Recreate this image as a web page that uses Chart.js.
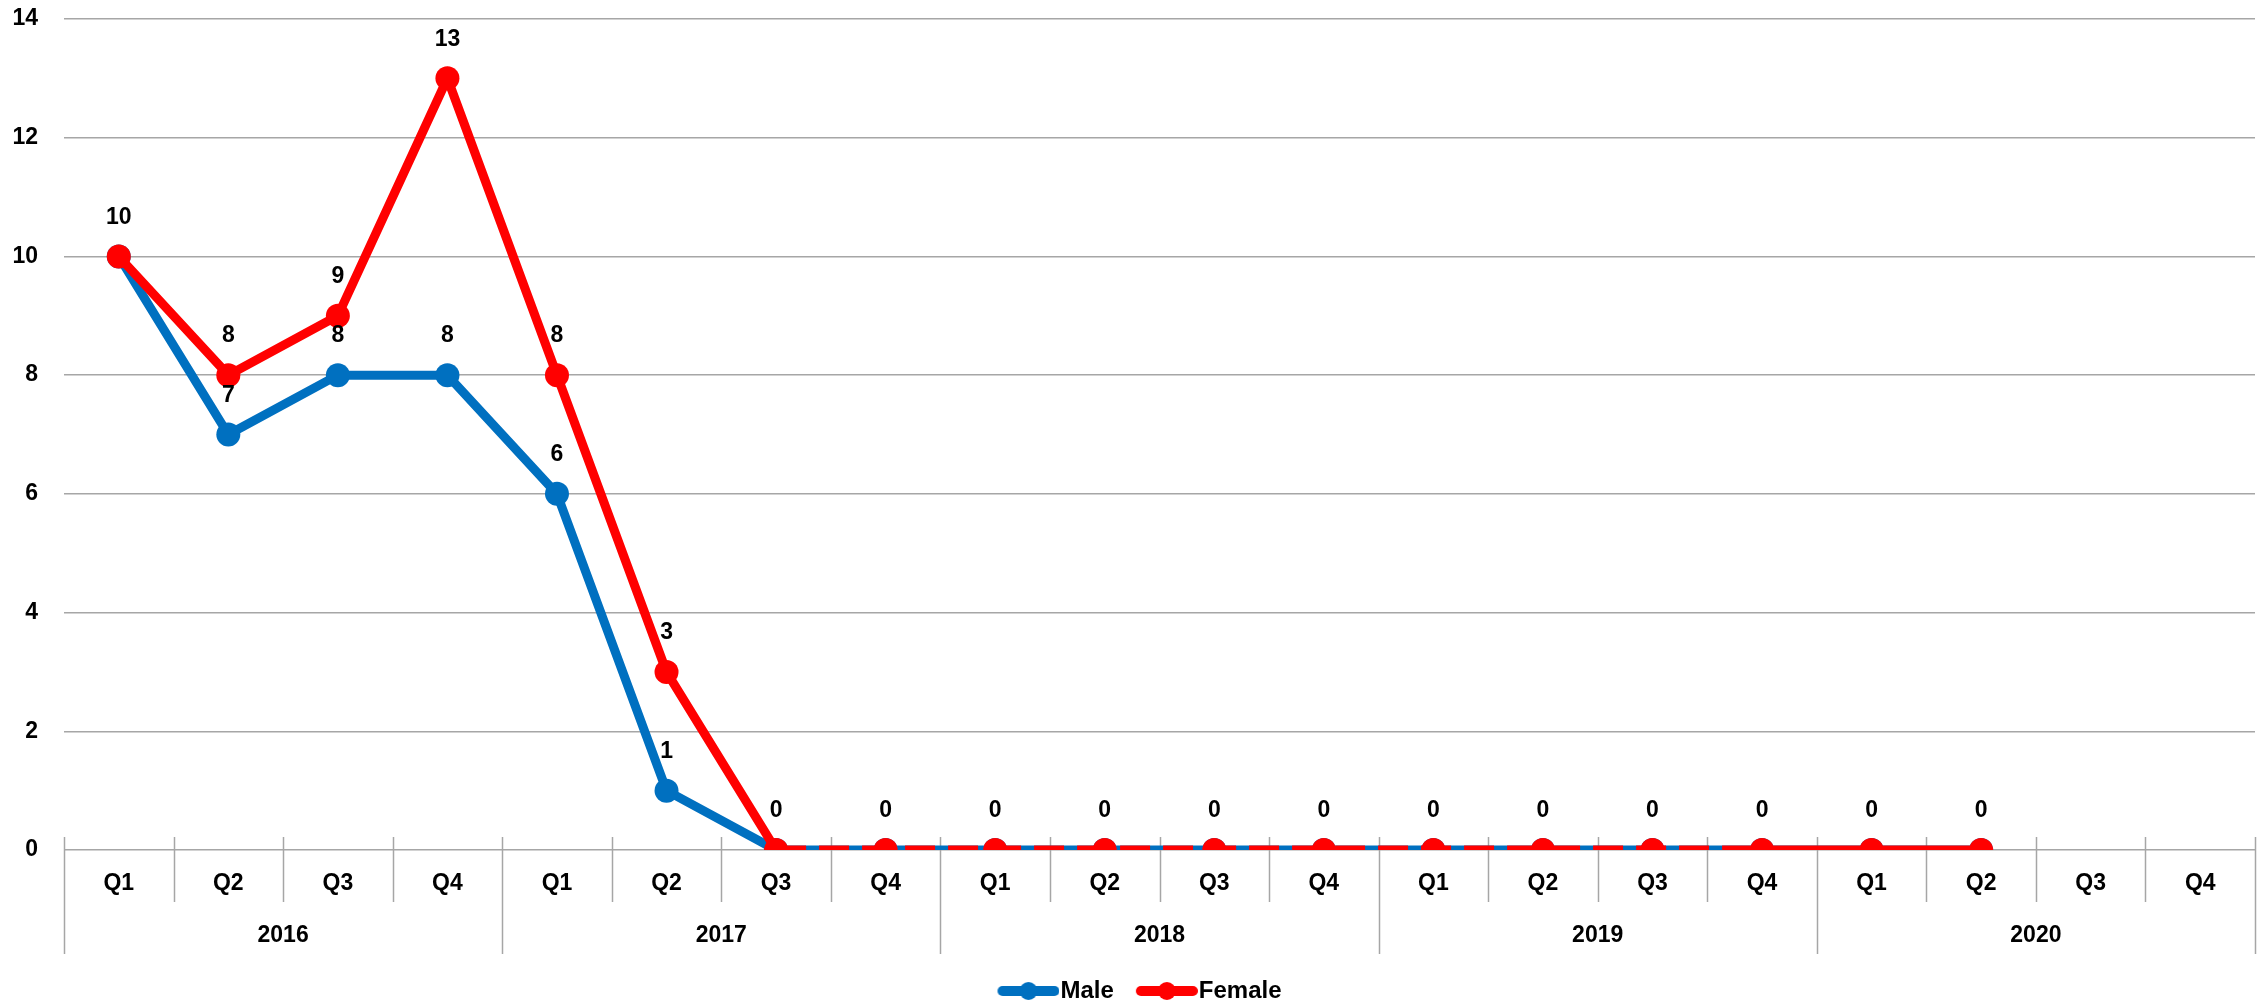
<!doctype html>
<html lang="en">
  <head>
    <meta charset="utf-8">
    <title>Male / Female by quarter</title>
    <style>
      * { margin: 0; padding: 0; }
      body { background: #fff; }
      .chartBox { width: 2267px; height: 1005px; }
    </style>
  </head>
  <body>
    <div class="chartBox">
      <canvas id="myChart"></canvas>
    </div>
    <script src="https://cdn.jsdelivr.net/npm/chart.js"></script>
    <script>
    // data
    const years = ['2016', '2017', '2018', '2019', '2020'];
    const quarters = ['Q1', 'Q2', 'Q3', 'Q4'];
    const categories = years.flatMap(() => quarters);
    const male = [10, 7, 8, 8, 6, 1, 0, 0, 0, 0, 0, 0, 0, 0, 0, 0, 0, 0];
    const female = [10, 8, 9, 13, 8, 3, 0, 0, 0, 0, 0, 0, 0, 0, 0, 0, 0, 0];

    const blue = '#0070C0';
    const red = '#FF0000';
    const gridColour = '#A6A6A6';
    const font = "'Liberation Sans', Arial, sans-serif";

    // legend icon: line with a dot, pushed to the right side of the box
    function legendIcon(colour) {
      const c = document.createElement('canvas');
      c.width = 95;
      c.height = 24;
      const g = c.getContext('2d');
      g.strokeStyle = colour;
      g.lineWidth = 10;
      g.lineCap = 'round';
      g.beginPath();
      g.moveTo(38, 12);
      g.lineTo(90, 12);
      g.stroke();
      g.fillStyle = colour;
      g.beginPath();
      g.arc(64, 12, 9, 0, Math.PI * 2);
      g.fill();
      return c;
    }
    const icons = [legendIcon(blue), legendIcon(red)];

    // two level category axis (quarters / years)
    const quarterAxis = {
      id: 'quarterAxis',
      beforeDatasetsDraw(chart) {
        const { ctx, chartArea: { bottom }, scales: { x } } = chart;
        const half = (x.getPixelForValue(1) - x.getPixelForValue(0)) / 2;
        ctx.save();
        ctx.strokeStyle = gridColour;
        ctx.lineWidth = 1.5;
        for (let i = 0; i <= categories.length; i++) {
          const px = Math.round(x.getPixelForValue(i) - half) + 0.5;
          const end = i % quarters.length === 0 ? bottom + 104 : bottom + 52;
          ctx.beginPath();
          ctx.moveTo(px, bottom - 13);
          ctx.lineTo(px, end);
          ctx.stroke();
        }
        ctx.fillStyle = '#000';
        ctx.font = 'bold 23px ' + font;
        ctx.textAlign = 'center';
        ctx.textBaseline = 'middle';
        categories.forEach((q, i) => {
          ctx.fillText(q, x.getPixelForValue(i), bottom + 34);
        });
        years.forEach((yr, j) => {
          const a = x.getPixelForValue(j * 4);
          const b = x.getPixelForValue(j * 4 + 3);
          ctx.fillText(yr, (a + b) / 2, bottom + 86);
        });
        ctx.restore();
      }
    };

    // value labels above the points
    const valueLabels = {
      id: 'valueLabels',
      afterDatasetsDraw(chart) {
        const { ctx } = chart;
        ctx.save();
        ctx.fillStyle = '#000';
        ctx.font = 'bold 23px ' + font;
        ctx.textAlign = 'center';
        ctx.textBaseline = 'middle';
        chart.getDatasetMeta(1).data.forEach((pt, i) => {
          ctx.fillText(female[i], pt.x, pt.y - 39);
        });
        chart.getDatasetMeta(0).data.forEach((pt, i) => {
          if (male[i] !== female[i]) ctx.fillText(male[i], pt.x, pt.y - 39);
        });
        ctx.restore();
      }
    };

    const data = {
      labels: categories,
      datasets: [{
        label: 'Male',
        data: male,
        borderColor: blue,
        backgroundColor: blue,
        borderWidth: 9,
        pointRadius: 12,
        pointHoverRadius: 12,
        pointBorderWidth: 0,
        order: 1
      }, {
        label: 'Female',
        data: female,
        borderColor: red,
        backgroundColor: red,
        borderWidth: 9,
        pointRadius: 12,
        pointHoverRadius: 12,
        pointBorderWidth: 0,
        order: 0,
        segment: {
          borderDash: (ctx) => (ctx.p0DataIndex >= 6 && ctx.p1DataIndex <= 15) ? [30, 13] : undefined
        }
      }]
    };

    const config = {
      type: 'line',
      data,
      options: {
        responsive: true,
        maintainAspectRatio: false,
        animation: false,
        layout: {
          padding: { top: 19, right: 10, left: 0, bottom: -8 }
        },
        scales: {
          x: {
            offset: true,
            grid: { display: false },
            border: { display: false },
            ticks: { display: false },
            afterFit: (scale) => { scale.height = 129; }
          },
          y: {
            min: 0,
            max: 14,
            ticks: {
              stepSize: 2,
              padding: 26,
              color: '#000',
              font: { family: font, size: 23, weight: 'bold' }
            },
            grid: { color: gridColour, lineWidth: 1.5, drawTicks: false },
            border: { display: false },
            afterFit: (scale) => {
              scale.width = 64;
              scale.paddingTop = 0;
              scale.paddingBottom = 0;
            }
          }
        },
        plugins: {
          legend: {
            position: 'bottom',
            labels: {
              usePointStyle: true,
              pointStyleWidth: 73,
              padding: 0,
              color: '#000',
              font: { family: font, size: 24, weight: 'bold' },
              generateLabels: (chart) => chart.data.datasets.map((ds, i) => ({
                text: ds.label,
                pointStyle: icons[i],
                fillStyle: ds.borderColor,
                strokeStyle: ds.borderColor,
                lineWidth: 0,
                hidden: false,
                datasetIndex: i,
                fontColor: '#000'
              }))
            }
          },
          tooltip: { enabled: false }
        }
      },
      plugins: [quarterAxis, valueLabels]
    };

    const myChart = new Chart(document.getElementById('myChart'), config);
    </script>
  </body>
</html>
